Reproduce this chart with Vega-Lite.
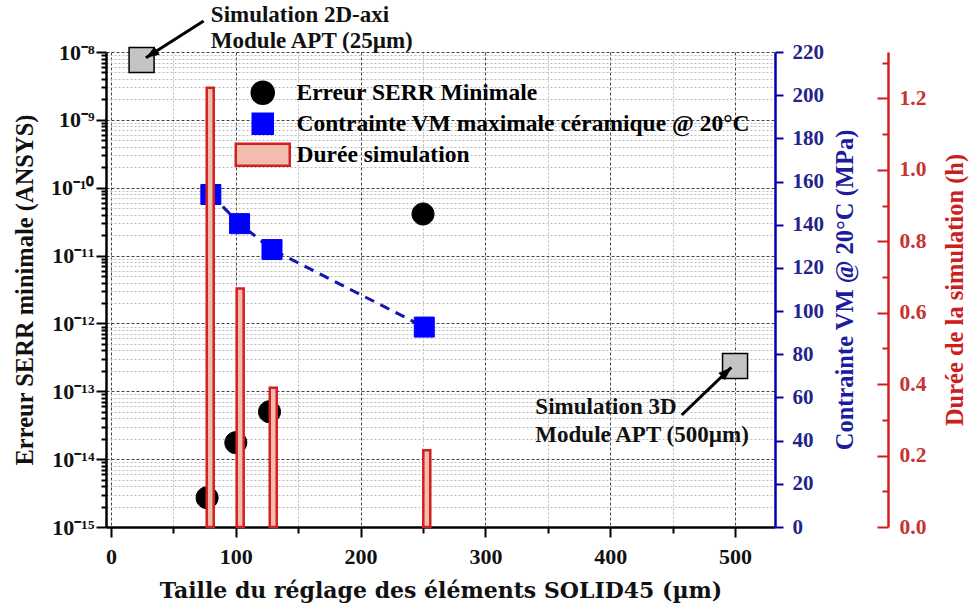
{
  "$schema": "https://vega.github.io/schema/vega-lite/v6.json",
  "width": 669,
  "height": 475,
  "autosize": "none",
  "padding": {"left": 106, "top": 52, "right": 195, "bottom": 83},
  "background": "white",
  "datasets": {
    "serr": [
      {"x": 77, "v": 2.7e-15, "series": "Erreur SERR Minimale"},
      {"x": 100, "v": 1.75e-14, "series": "Erreur SERR Minimale"},
      {"x": 127, "v": 5e-14, "series": "Erreur SERR Minimale"},
      {"x": 250, "v": 4.1e-11, "series": "Erreur SERR Minimale"}
    ],
    "vm": [
      {"x": 80, "mpa": 154, "series": "Contrainte VM maximale céramique @ 20°C"},
      {"x": 103, "mpa": 140.5, "series": "Contrainte VM maximale céramique @ 20°C"},
      {"x": 129, "mpa": 128.5, "series": "Contrainte VM maximale céramique @ 20°C"},
      {"x": 251, "mpa": 92.6, "series": "Contrainte VM maximale céramique @ 20°C"}
    ],
    "duree": [
      {"x": 79.5, "h": 1.23, "series": "Durée simulation"},
      {"x": 103.5, "h": 0.668, "series": "Durée simulation"},
      {"x": 130, "h": 0.39, "series": "Durée simulation"},
      {"x": 253, "h": 0.215, "series": "Durée simulation"}
    ],
    "sims": [
      {"x": 24.5, "v": 7.6e-9, "name": "Simulation 2D-axi"},
      {"x": 500, "v": 2.35e-13, "name": "Simulation 3D"}
    ],
    "arrows": [
      {"id": 1, "x": 74.2, "y": 2.86e-8, "tx": 28, "ty": 8.2e-9},
      {"id": 2, "x": 457.3, "y": 4.47e-14, "tx": 497, "ty": 2.25e-13}
    ],
    "notes": [
      {"x": 80, "y": 3.5e-8, "text": "Simulation 2D-axi"},
      {"x": 80, "y": 1.45e-8, "text": "Module APT (25µm)"},
      {"x": 340, "y": 5.86e-14, "text": "Simulation 3D"},
      {"x": 340, "y": 2.27e-14, "text": "Module APT (500µm)"}
    ]
  },
  "config": {
    "view": {"stroke": null},
    "axis": {
      "labelFont": "Liberation Serif",
      "titleFont": "Liberation Serif",
      "labelFontWeight": "bold",
      "titleFontWeight": "bold",
      "labelOverlap": false,
      "labelBound": false,
      "labelFlush": false
    },
    "legend": {
      "labelFont": "Liberation Serif",
      "labelFontWeight": "bold",
      "labelFontSize": 23.5,
      "labelColor": "black",
      "symbolSize": 400,
      "symbolStrokeWidth": 2.5,
      "symbolOpacity": 1,
      "labelOffset": 22,
      "rowPadding": -1,
      "padding": 0,
      "labelLimit": 700
    }
  },
  "layer": [
    {
      "layer": [
        {
          "data": {"name": "serr"},
          "mark": {"type": "point", "filled": true, "size": 400, "opacity": 1, "strokeWidth": 1},
          "encoding": {
            "x": {
              "field": "x", "type": "quantitative",
              "scale": {"domain": [0, 528], "nice": false, "zero": false},
              "axis": {
                "values": [0, 50, 100, 150, 200, 250, 300, 350, 400, 450, 500],
                "labelExpr": "datum.value % 100 == 0 ? datum.label : ''",
                "title": "Taille du réglage des éléments SOLID45 (µm)",
                "titleFont": "DejaVu Serif",
                "titleFontSize": 22,
                "titleColor": "#111111",
                "labelFontSize": 22,
                "labelColor": "#111111",
                "domainColor": "black",
                "domainWidth": 2.5,
                "tickColor": "black",
                "tickWidth": 2,
                "tickSize": {"condition": {"test": "datum.value % 100 == 0", "value": 10}, "value": 6},
                "labelPadding": 9,
                "titlePadding": 13,
                "grid": true,
                "gridColor": {"condition": {"test": "datum.value % 100 == 0", "value": "#444444"}, "value": "#bbbbbb"},
                "gridDash": {"condition": {"test": "datum.value % 100 == 0", "value": [3, 2]}, "value": [2, 2]},
                "gridWidth": 1
              }
            },
            "y": {
              "field": "v", "type": "quantitative",
              "scale": {"type": "log", "domain": [1e-15, 1e-8], "nice": false},
              "axis": {
                "orient": "left",
                "values": [1e-15, 2e-15, 3e-15, 4e-15, 5e-15, 6e-15, 7e-15, 8e-15, 9e-15,
                           1e-14, 2e-14, 3e-14, 4e-14, 5e-14, 6e-14, 7e-14, 8e-14, 9e-14,
                           1e-13, 2e-13, 3e-13, 4e-13, 5e-13, 6e-13, 7e-13, 8e-13, 9e-13,
                           1e-12, 2e-12, 3e-12, 4e-12, 5e-12, 6e-12, 7e-12, 8e-12, 9e-12,
                           1e-11, 2e-11, 3e-11, 4e-11, 5e-11, 6e-11, 7e-11, 8e-11, 9e-11,
                           1e-10, 2e-10, 3e-10, 4e-10, 5e-10, 6e-10, 7e-10, 8e-10, 9e-10,
                           1e-9, 2e-9, 3e-9, 4e-9, 5e-9, 6e-9, 7e-9, 8e-9, 9e-9, 1e-8],
                "labelExpr": "abs(log(datum.value)/LN10 - round(log(datum.value)/LN10)) < 0.01 ? '10' + ['⁰','⁻¹','⁻²','⁻³','⁻⁴','⁻⁵','⁻⁶','⁻⁷','⁻⁸','⁻⁹','⁻¹⁰','⁻¹¹','⁻¹²','⁻¹³','⁻¹⁴','⁻¹⁵'][round(-log(datum.value)/LN10)] : ''",
                "title": "Erreur SERR minimale (ANSYS)",
                "titleFontSize": 24.5,
                "titleColor": "#111111",
                "labelFontSize": 22,
                "labelColor": "#111111",
                "domainColor": "black",
                "domainWidth": 2.5,
                "tickColor": "black",
                "tickWidth": 2,
                "tickSize": {"condition": {"test": "abs(log(datum.value)/LN10 - round(log(datum.value)/LN10)) < 0.01", "value": 10}, "value": 5},
                "labelPadding": 2,
                "titlePadding": 13,
                "grid": true,
                "gridColor": {"condition": {"test": "abs(log(datum.value)/LN10 - round(log(datum.value)/LN10)) < 0.01", "value": "#444444"}, "value": "#bbbbbb"},
                "gridDash": {"condition": {"test": "abs(log(datum.value)/LN10 - round(log(datum.value)/LN10)) < 0.01", "value": [3, 2]}, "value": [2, 2]},
                "gridWidth": 1
              }
            },
            "fill": {
              "field": "series", "type": "nominal",
              "scale": {"domain": ["Erreur SERR Minimale", "Contrainte VM maximale céramique @ 20°C", "Durée simulation"], "range": ["#000000", "#0000ff", "#f2bcae"]},
              "legend": {"orient": "none", "legendX": 145, "legendY": 29, "title": null, "direction": "vertical"}
            },
            "stroke": {
              "field": "series", "type": "nominal",
              "scale": {"domain": ["Erreur SERR Minimale", "Contrainte VM maximale céramique @ 20°C", "Durée simulation"], "range": ["#000000", "#0000ff", "#d42020"]},
              "legend": {"orient": "none", "legendX": 145, "legendY": 29, "title": null, "direction": "vertical"}
            },
            "shape": {
              "field": "series", "type": "nominal",
              "scale": {"domain": ["Erreur SERR Minimale", "Contrainte VM maximale céramique @ 20°C", "Durée simulation"], "range": ["M1.1,0A1.1,1.1,0,1,1,-1.1,0A1.1,1.1,0,1,1,1.1,0Z", "M-1,-1H1V1H-1Z", "M-2.7,-1.1H2.7V1.1H-2.7Z"]},
              "legend": {"orient": "none", "legendX": 145, "legendY": 29, "title": null, "direction": "vertical"}
            }
          }
        },
        {
          "data": {"name": "sims"},
          "mark": {"type": "point", "shape": "square", "filled": true, "size": 625, "opacity": 1, "fill": "#c4c4c4", "stroke": "#000000", "strokeWidth": 1.5},
          "encoding": {
            "x": {"field": "x", "type": "quantitative", "scale": {"domain": [0, 528], "nice": false, "zero": false}},
            "y": {"field": "v", "type": "quantitative", "scale": {"type": "log", "domain": [1e-15, 1e-8], "nice": false}}
          }
        },
        {
          "data": {"name": "arrows"},
          "mark": {"type": "rule", "strokeWidth": 3, "color": "#000000"},
          "encoding": {
            "x": {"field": "x", "type": "quantitative", "scale": {"domain": [0, 528], "nice": false, "zero": false}},
            "y": {"field": "y", "type": "quantitative", "scale": {"type": "log", "domain": [1e-15, 1e-8], "nice": false}},
            "x2": {"field": "tx"},
            "y2": {"field": "ty"}
          }
        },
        {
          "data": {"name": "arrows"},
          "transform": [{"filter": "datum.id == 1"}],
          "mark": {"type": "point", "shape": "M0,0L-0.8,2.2L0.8,2.2Z", "size": 144, "angle": 237, "filled": true, "opacity": 1, "color": "#000000"},
          "encoding": {
            "x": {"field": "tx", "type": "quantitative", "scale": {"domain": [0, 528], "nice": false, "zero": false}},
            "y": {"field": "ty", "type": "quantitative", "scale": {"type": "log", "domain": [1e-15, 1e-8], "nice": false}}
          }
        },
        {
          "data": {"name": "arrows"},
          "transform": [{"filter": "datum.id == 2"}],
          "mark": {"type": "point", "shape": "M0,0L-0.8,2.2L0.8,2.2Z", "size": 144, "angle": 47, "filled": true, "opacity": 1, "color": "#000000"},
          "encoding": {
            "x": {"field": "tx", "type": "quantitative", "scale": {"domain": [0, 528], "nice": false, "zero": false}},
            "y": {"field": "ty", "type": "quantitative", "scale": {"type": "log", "domain": [1e-15, 1e-8], "nice": false}}
          }
        },
        {
          "data": {"name": "notes"},
          "mark": {"type": "text", "align": "left", "baseline": "middle", "font": "Liberation Serif", "fontWeight": "bold", "fontSize": 23, "color": "#111111"},
          "encoding": {
            "x": {"field": "x", "type": "quantitative", "scale": {"domain": [0, 528], "nice": false, "zero": false}},
            "y": {"field": "y", "type": "quantitative", "scale": {"type": "log", "domain": [1e-15, 1e-8], "nice": false}},
            "text": {"field": "text"}
          }
        }
      ]
    },
    {
      "layer": [
        {
          "data": {"name": "vm"},
          "mark": {"type": "line", "strokeDash": [10, 7], "strokeWidth": 3, "color": "#1414b4"},
          "encoding": {
            "x": {"field": "x", "type": "quantitative", "scale": {"domain": [0, 528], "nice": false, "zero": false}},
            "y": {"field": "mpa", "type": "quantitative", "scale": {"domain": [0, 220], "nice": false}}
          }
        },
        {
          "data": {"name": "vm"},
          "mark": {"type": "point", "filled": true, "size": 400, "opacity": 1, "strokeWidth": 1},
          "encoding": {
            "x": {"field": "x", "type": "quantitative", "scale": {"domain": [0, 528], "nice": false, "zero": false}},
            "y": {
              "field": "mpa", "type": "quantitative",
              "scale": {"domain": [0, 220], "nice": false},
              "axis": {
                "orient": "right",
                "values": [0, 10, 20, 30, 40, 50, 60, 70, 80, 90, 100, 110, 120, 130, 140, 150, 160, 170, 180, 190, 200, 210, 220],
                "labelExpr": "datum.value % 20 == 0 ? datum.label : ''",
                "title": "Contrainte VM @ 20°C (MPa)",
                "titleFontSize": 24.5,
                "titleColor": "#1c1ca0",
                "titleAngle": 270,
                "titleBaseline": "top",
                "labelFontSize": 21,
                "labelColor": "#23238e",
                "domainColor": "#0000a8",
                "domainWidth": 2.5,
                "tickColor": "#0000a8",
                "tickWidth": 2,
                "tickSize": {"condition": {"test": "datum.value % 20 == 0", "value": 8}, "value": 4},
                "labelPadding": 9,
                "titlePadding": 10,
                "grid": false
              }
            },
            "fill": {
              "field": "series", "type": "nominal",
              "scale": {"domain": ["Erreur SERR Minimale", "Contrainte VM maximale céramique @ 20°C", "Durée simulation"], "range": ["#000000", "#0000ff", "#f2bcae"]}
            },
            "stroke": {
              "field": "series", "type": "nominal",
              "scale": {"domain": ["Erreur SERR Minimale", "Contrainte VM maximale céramique @ 20°C", "Durée simulation"], "range": ["#000000", "#0000ff", "#d42020"]}
            },
            "shape": {
              "field": "series", "type": "nominal",
              "scale": {"domain": ["Erreur SERR Minimale", "Contrainte VM maximale céramique @ 20°C", "Durée simulation"], "range": ["M1.1,0A1.1,1.1,0,1,1,-1.1,0A1.1,1.1,0,1,1,1.1,0Z", "M-1,-1H1V1H-1Z", "M-2.7,-1.1H2.7V1.1H-2.7Z"]}
            }
          }
        }
      ]
    },
    {
      "data": {"name": "duree"},
      "mark": {"type": "bar", "orient": "vertical", "size": 7, "strokeWidth": 2.5, "opacity": 1},
      "encoding": {
        "x": {"field": "x", "type": "quantitative", "scale": {"domain": [0, 528], "nice": false, "zero": false}},
        "y": {
          "field": "h", "type": "quantitative",
          "scale": {"domain": [0, 1.33], "nice": false},
          "axis": {
            "orient": "right",
            "offset": 113,
            "values": [0, 0.1, 0.2, 0.3, 0.4, 0.5, 0.6, 0.7, 0.8, 0.9, 1.0, 1.1, 1.2, 1.3],
            "labelExpr": "round(datum.value*10) % 2 == 0 ? format(datum.value, '.1f') : ''",
            "title": "Durée de la simulation (h)",
            "titleFontSize": 24.5,
            "titleColor": "#cc2020",
            "titleAngle": 270,
            "titleBaseline": "top",
            "labelFontSize": 21.5,
            "labelColor": "#c83232",
            "domainColor": "#cc1f1f",
            "domainWidth": 2.5,
            "tickColor": "#cc1f1f",
            "tickWidth": 2,
            "tickSize": {"condition": {"test": "round(datum.value*10) % 2 == 0", "value": -11}, "value": -6},
            "labelPadding": 22,
            "titlePadding": 18,
            "grid": false
          }
        },
        "fill": {
          "field": "series", "type": "nominal",
          "scale": {"domain": ["Erreur SERR Minimale", "Contrainte VM maximale céramique @ 20°C", "Durée simulation"], "range": ["#000000", "#0000ff", "#f2bcae"]}
        },
        "stroke": {
          "field": "series", "type": "nominal",
          "scale": {"domain": ["Erreur SERR Minimale", "Contrainte VM maximale céramique @ 20°C", "Durée simulation"], "range": ["#000000", "#0000ff", "#d42020"]}
        }
      }
    }
  ],
  "resolve": {"scale": {"y": "independent"}}
}
